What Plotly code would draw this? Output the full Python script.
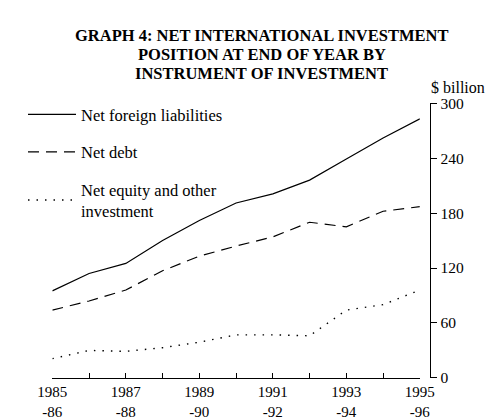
import plotly.graph_objects as go

years = [1985, 1986, 1987, 1988, 1989, 1990, 1991, 1992, 1993, 1994, 1995]
year_labels = ["1985<br>-86", "", "1987<br>-88", "", "1989<br>-90", "",
               "1991<br>-92", "", "1993<br>-94", "", "1995<br>-96"]

net_foreign_liabilities = [95, 114, 125, 150, 172, 191, 201, 216, 239, 262, 283]
net_debt = [74, 84, 96, 117, 133, 144, 154, 170, 165, 182, 187]
net_equity_other = [21, 30, 29, 33, 39, 47, 47, 46, 74, 80, 96]

y_ticks = [0, 60, 120, 180, 240, 300]

title_lines = ["GRAPH 4: NET INTERNATIONAL INVESTMENT",
               "POSITION AT END OF YEAR BY",
               "INSTRUMENT OF INVESTMENT"]

SERIF = "Liberation Serif, Times New Roman, serif"

fig = go.Figure()
fig.add_trace(go.Scatter(
    x=years, y=net_foreign_liabilities, mode="lines", name="Net foreign liabilities",
    line=dict(color="black", width=1.2), legendgroup="a",
))
fig.add_trace(go.Scatter(
    x=years, y=net_debt, mode="lines", name="Net debt",
    line=dict(color="black", width=1.2, dash="11px,7px"), legendgroup="b",
))
fig.add_trace(go.Scatter(
    x=years, y=net_equity_other, mode="lines", name="Net equity and other<br>investment",
    line=dict(color="black", width=1.4, dash="1.5px,7px"), legendgroup="c",
))

# title lines set one by one to keep them tight like the printed original
annotations = []
for i, line in enumerate(title_lines):
    annotations.append(dict(
        text="<b>" + line + "</b>", x=0.505, y=1 - (19 + 20 * i) / 418,
        xref="paper", yref="paper", xanchor="center", yanchor="middle",
        showarrow=False, font=dict(size=16.5, family=SERIF),
    ))
annotations.append(dict(
    text="$ billion", x=0.98, y=1 - 73 / 418, xref="paper", yref="paper",
    xanchor="right", yanchor="middle", showarrow=False,
    font=dict(size=16, family=SERIF),
))

fig.update_layout(
    width=503, height=418,
    margin=dict(l=0, r=0, t=0, b=0),
    paper_bgcolor="white", plot_bgcolor="white",
    font=dict(family=SERIF, size=15, color="black"),
    showlegend=True,
    legend=dict(x=0.0, y=0.80, xanchor="left", yanchor="top",
                bgcolor="rgba(0,0,0,0)", font=dict(size=16.5, family=SERIF),
                tracegroupgap=13, traceorder="grouped", itemwidth=48),
    xaxis=dict(
        domain=[0.062, 0.839], range=[1985, 1995],
        tickvals=years, ticktext=year_labels,
        ticks="inside", ticklen=5, tickcolor="black",
        showline=True, linecolor="black", linewidth=1.2,
        showgrid=False, zeroline=False,
        tickfont=dict(size=15, family=SERIF),
    ),
    yaxis=dict(
        domain=[0.10, 0.785], range=[0, 300],
        anchor="free", position=0.861, side="right",
        tickvals=y_ticks, ticks="outside", ticklen=6, tickcolor="black",
        showline=True, linecolor="black", linewidth=1.2,
        showgrid=False, zeroline=False,
        tickfont=dict(size=15.5, family=SERIF),
    ),
    annotations=annotations,
)

fig.write_html("out.html")
